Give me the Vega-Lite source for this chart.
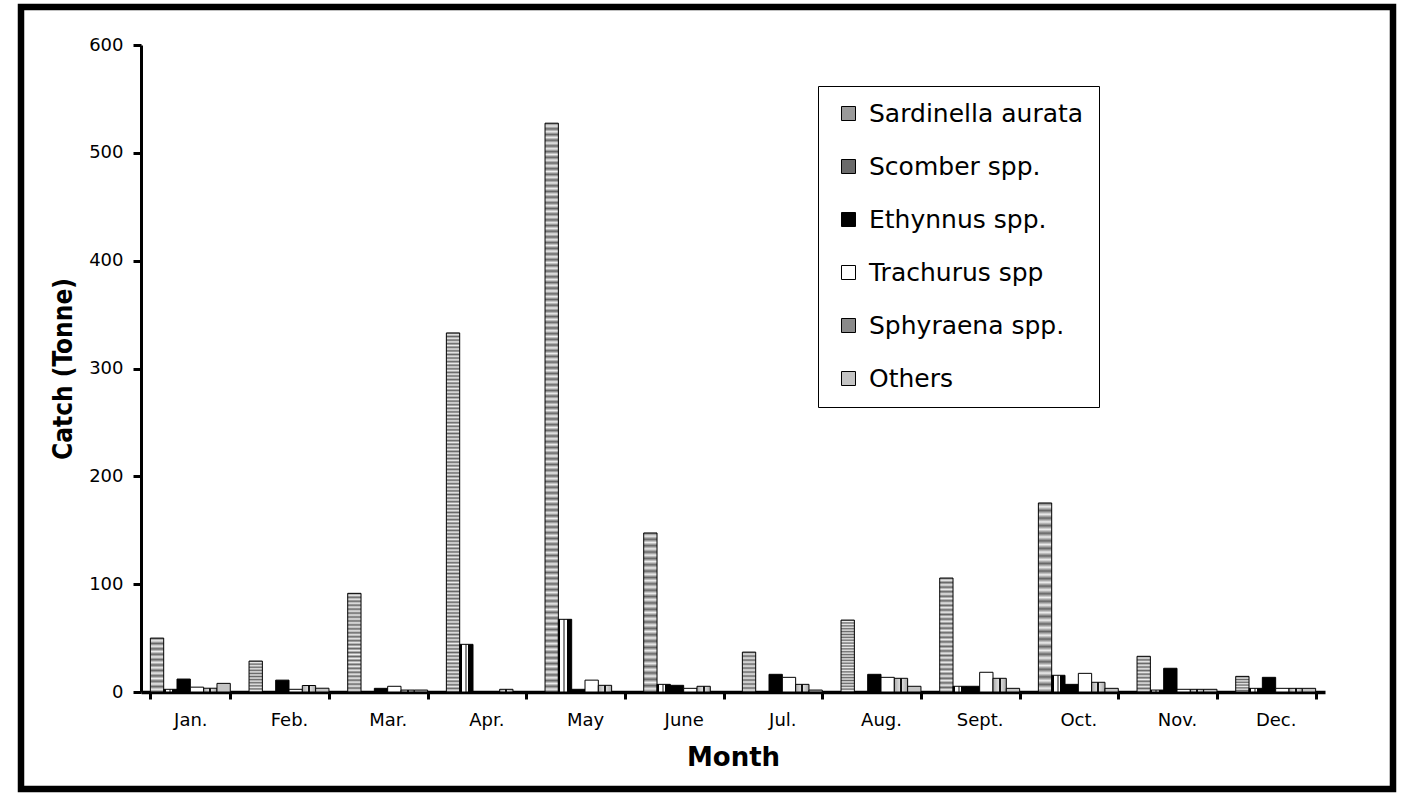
{
"$schema": "https://vega.github.io/schema/vega-lite/v6.json",
"width": 1372, "height": 782,
"autosize": "none",
"padding": {"left": 21, "top": 7, "right": 21, "bottom": 10},
"background": "white",
"config": {"view": {"stroke": "black", "strokeWidth": 6.5}, "font": "DejaVu Sans"},
"data": {"values": [
{"month":"Jan.","species":"Sardinella aurata","catch":50},
{"month":"Jan.","species":"Scomber spp.","catch":2.5},
{"month":"Jan.","species":"Ethynnus spp.","catch":12},
{"month":"Jan.","species":"Trachurus spp","catch":4.5},
{"month":"Jan.","species":"Sphyraena spp.","catch":3.5},
{"month":"Jan.","species":"Others","catch":8},
{"month":"Feb.","species":"Sardinella aurata","catch":28.7},
{"month":"Feb.","species":"Scomber spp.","catch":0},
{"month":"Feb.","species":"Ethynnus spp.","catch":11},
{"month":"Feb.","species":"Trachurus spp","catch":2.5},
{"month":"Feb.","species":"Sphyraena spp.","catch":6},
{"month":"Feb.","species":"Others","catch":3.5},
{"month":"Mar.","species":"Sardinella aurata","catch":91.5},
{"month":"Mar.","species":"Scomber spp.","catch":0},
{"month":"Mar.","species":"Ethynnus spp.","catch":3.4},
{"month":"Mar.","species":"Trachurus spp","catch":5.3},
{"month":"Mar.","species":"Sphyraena spp.","catch":1.8},
{"month":"Mar.","species":"Others","catch":1.8},
{"month":"Apr.","species":"Sardinella aurata","catch":333},
{"month":"Apr.","species":"Scomber spp.","catch":44.2},
{"month":"Apr.","species":"Ethynnus spp.","catch":0},
{"month":"Apr.","species":"Trachurus spp","catch":0},
{"month":"Apr.","species":"Sphyraena spp.","catch":2.5},
{"month":"Apr.","species":"Others","catch":0},
{"month":"May","species":"Sardinella aurata","catch":527.5},
{"month":"May","species":"Scomber spp.","catch":67.4},
{"month":"May","species":"Ethynnus spp.","catch":2.5},
{"month":"May","species":"Trachurus spp","catch":11},
{"month":"May","species":"Sphyraena spp.","catch":6.2},
{"month":"May","species":"Others","catch":0},
{"month":"June","species":"Sardinella aurata","catch":147.5},
{"month":"June","species":"Scomber spp.","catch":7.1},
{"month":"June","species":"Ethynnus spp.","catch":6.2},
{"month":"June","species":"Trachurus spp","catch":3.4},
{"month":"June","species":"Sphyraena spp.","catch":5.3},
{"month":"June","species":"Others","catch":0},
{"month":"Jul.","species":"Sardinella aurata","catch":37},
{"month":"Jul.","species":"Scomber spp.","catch":0},
{"month":"Jul.","species":"Ethynnus spp.","catch":16.4},
{"month":"Jul.","species":"Trachurus spp","catch":13.6},
{"month":"Jul.","species":"Sphyraena spp.","catch":7.1},
{"month":"Jul.","species":"Others","catch":1.8},
{"month":"Aug.","species":"Sardinella aurata","catch":66.7},
{"month":"Aug.","species":"Scomber spp.","catch":0},
{"month":"Aug.","species":"Ethynnus spp.","catch":16.4},
{"month":"Aug.","species":"Trachurus spp","catch":13.6},
{"month":"Aug.","species":"Sphyraena spp.","catch":12.7},
{"month":"Aug.","species":"Others","catch":5.3},
{"month":"Sept.","species":"Sardinella aurata","catch":105.7},
{"month":"Sept.","species":"Scomber spp.","catch":5.3},
{"month":"Sept.","species":"Ethynnus spp.","catch":5.3},
{"month":"Sept.","species":"Trachurus spp","catch":18.3},
{"month":"Sept.","species":"Sphyraena spp.","catch":12.7},
{"month":"Sept.","species":"Others","catch":3.4},
{"month":"Oct.","species":"Sardinella aurata","catch":175.3},
{"month":"Oct.","species":"Scomber spp.","catch":15.5},
{"month":"Oct.","species":"Ethynnus spp.","catch":7.1},
{"month":"Oct.","species":"Trachurus spp","catch":17.3},
{"month":"Oct.","species":"Sphyraena spp.","catch":9},
{"month":"Oct.","species":"Others","catch":3.4},
{"month":"Nov.","species":"Sardinella aurata","catch":33.1},
{"month":"Nov.","species":"Scomber spp.","catch":1.8},
{"month":"Nov.","species":"Ethynnus spp.","catch":22},
{"month":"Nov.","species":"Trachurus spp","catch":2.5},
{"month":"Nov.","species":"Sphyraena spp.","catch":2.5},
{"month":"Nov.","species":"Others","catch":2.5},
{"month":"Dec.","species":"Sardinella aurata","catch":14.5},
{"month":"Dec.","species":"Scomber spp.","catch":3.4},
{"month":"Dec.","species":"Ethynnus spp.","catch":13.6},
{"month":"Dec.","species":"Trachurus spp","catch":3.4},
{"month":"Dec.","species":"Sphyraena spp.","catch":3.4},
{"month":"Dec.","species":"Others","catch":3.4}
]},
"mark": {"type": "bar", "stroke": "black", "strokeWidth": 1},
"encoding": {
"x": {"field": "month", "type": "nominal",
 "sort": ["Jan.","Feb.","Mar.","Apr.","May","June","Jul.","Aug.","Sept.","Oct.","Nov.","Dec."],
 "scale": {"range": [120, 1304], "paddingInner": 0.19, "paddingOuter": 0.095},
 "axis": {"title": "Month", "tickBand": "extent", "labelAngle": 0, "offset": -97,
  "domainWidth": 3.5, "domainColor": "black", "tickWidth": 3, "tickColor": "black", "tickSize": 7,
  "labelFontSize": 18, "labelColor": "black", "labelPadding": 12,
  "titleFontSize": 26, "titleFontWeight": "bold", "titleColor": "black", "titlePadding": 15}},
"xOffset": {"field": "species", "type": "nominal",
 "sort": ["Sardinella aurata","Scomber spp.","Ethynnus spp.","Trachurus spp","Sphyraena spp.","Others"],
 "scale": {"paddingInner": 0, "paddingOuter": 0}},
"y": {"field": "catch", "type": "quantitative",
 "scale": {"domain": [0, 600], "range": [685, 38], "nice": false},
 "axis": {"title": "Catch (Tonne)", "values": [0,100,200,300,400,500,600], "grid": false, "offset": -120,
  "domainWidth": 3, "domainColor": "black", "tickWidth": 3, "tickColor": "black", "tickSize": 8,
  "labelFontSize": 18, "labelColor": "black", "labelPadding": 10,
  "titleFont": "DejaVu Sans Condensed", "titleFontSize": 26, "titleFontWeight": "bold", "titleColor": "black", "titlePadding": 12}},
"fill": {
 "condition": [
  {"test": "datum.species === 'Sardinella aurata' && datum.catch > 250", "value":
   {"gradient": "linear", "x1": 0, "y1": 0, "x2": 0, "y2": 1, "stops": [
{"offset":0,"color":"#666"},{"offset":0.005,"color":"#eee"},{"offset":0.01,"color":"#666"},{"offset":0.015,"color":"#eee"},{"offset":0.02,"color":"#666"},{"offset":0.025,"color":"#eee"},{"offset":0.03,"color":"#666"},{"offset":0.035,"color":"#eee"},{"offset":0.04,"color":"#666"},{"offset":0.045,"color":"#eee"},
{"offset":0.05,"color":"#666"},{"offset":0.055,"color":"#eee"},{"offset":0.06,"color":"#666"},{"offset":0.065,"color":"#eee"},{"offset":0.07,"color":"#666"},{"offset":0.075,"color":"#eee"},{"offset":0.08,"color":"#666"},{"offset":0.085,"color":"#eee"},{"offset":0.09,"color":"#666"},{"offset":0.095,"color":"#eee"},
{"offset":0.1,"color":"#666"},{"offset":0.105,"color":"#eee"},{"offset":0.11,"color":"#666"},{"offset":0.115,"color":"#eee"},{"offset":0.12,"color":"#666"},{"offset":0.125,"color":"#eee"},{"offset":0.13,"color":"#666"},{"offset":0.135,"color":"#eee"},{"offset":0.14,"color":"#666"},{"offset":0.145,"color":"#eee"},
{"offset":0.15,"color":"#666"},{"offset":0.155,"color":"#eee"},{"offset":0.16,"color":"#666"},{"offset":0.165,"color":"#eee"},{"offset":0.17,"color":"#666"},{"offset":0.175,"color":"#eee"},{"offset":0.18,"color":"#666"},{"offset":0.185,"color":"#eee"},{"offset":0.19,"color":"#666"},{"offset":0.195,"color":"#eee"},
{"offset":0.2,"color":"#666"},{"offset":0.205,"color":"#eee"},{"offset":0.21,"color":"#666"},{"offset":0.215,"color":"#eee"},{"offset":0.22,"color":"#666"},{"offset":0.225,"color":"#eee"},{"offset":0.23,"color":"#666"},{"offset":0.235,"color":"#eee"},{"offset":0.24,"color":"#666"},{"offset":0.245,"color":"#eee"},
{"offset":0.25,"color":"#666"},{"offset":0.255,"color":"#eee"},{"offset":0.26,"color":"#666"},{"offset":0.265,"color":"#eee"},{"offset":0.27,"color":"#666"},{"offset":0.275,"color":"#eee"},{"offset":0.28,"color":"#666"},{"offset":0.285,"color":"#eee"},{"offset":0.29,"color":"#666"},{"offset":0.295,"color":"#eee"},
{"offset":0.3,"color":"#666"},{"offset":0.305,"color":"#eee"},{"offset":0.31,"color":"#666"},{"offset":0.315,"color":"#eee"},{"offset":0.32,"color":"#666"},{"offset":0.325,"color":"#eee"},{"offset":0.33,"color":"#666"},{"offset":0.335,"color":"#eee"},{"offset":0.34,"color":"#666"},{"offset":0.345,"color":"#eee"},
{"offset":0.35,"color":"#666"},{"offset":0.355,"color":"#eee"},{"offset":0.36,"color":"#666"},{"offset":0.365,"color":"#eee"},{"offset":0.37,"color":"#666"},{"offset":0.375,"color":"#eee"},{"offset":0.38,"color":"#666"},{"offset":0.385,"color":"#eee"},{"offset":0.39,"color":"#666"},{"offset":0.395,"color":"#eee"},
{"offset":0.4,"color":"#666"},{"offset":0.405,"color":"#eee"},{"offset":0.41,"color":"#666"},{"offset":0.415,"color":"#eee"},{"offset":0.42,"color":"#666"},{"offset":0.425,"color":"#eee"},{"offset":0.43,"color":"#666"},{"offset":0.435,"color":"#eee"},{"offset":0.44,"color":"#666"},{"offset":0.445,"color":"#eee"},
{"offset":0.45,"color":"#666"},{"offset":0.455,"color":"#eee"},{"offset":0.46,"color":"#666"},{"offset":0.465,"color":"#eee"},{"offset":0.47,"color":"#666"},{"offset":0.475,"color":"#eee"},{"offset":0.48,"color":"#666"},{"offset":0.485,"color":"#eee"},{"offset":0.49,"color":"#666"},{"offset":0.495,"color":"#eee"},
{"offset":0.5,"color":"#666"},{"offset":0.505,"color":"#eee"},{"offset":0.51,"color":"#666"},{"offset":0.515,"color":"#eee"},{"offset":0.52,"color":"#666"},{"offset":0.525,"color":"#eee"},{"offset":0.53,"color":"#666"},{"offset":0.535,"color":"#eee"},{"offset":0.54,"color":"#666"},{"offset":0.545,"color":"#eee"},
{"offset":0.55,"color":"#666"},{"offset":0.555,"color":"#eee"},{"offset":0.56,"color":"#666"},{"offset":0.565,"color":"#eee"},{"offset":0.57,"color":"#666"},{"offset":0.575,"color":"#eee"},{"offset":0.58,"color":"#666"},{"offset":0.585,"color":"#eee"},{"offset":0.59,"color":"#666"},{"offset":0.595,"color":"#eee"},
{"offset":0.6,"color":"#666"},{"offset":0.605,"color":"#eee"},{"offset":0.61,"color":"#666"},{"offset":0.615,"color":"#eee"},{"offset":0.62,"color":"#666"},{"offset":0.625,"color":"#eee"},{"offset":0.63,"color":"#666"},{"offset":0.635,"color":"#eee"},{"offset":0.64,"color":"#666"},{"offset":0.645,"color":"#eee"},
{"offset":0.65,"color":"#666"},{"offset":0.655,"color":"#eee"},{"offset":0.66,"color":"#666"},{"offset":0.665,"color":"#eee"},{"offset":0.67,"color":"#666"},{"offset":0.675,"color":"#eee"},{"offset":0.68,"color":"#666"},{"offset":0.685,"color":"#eee"},{"offset":0.69,"color":"#666"},{"offset":0.695,"color":"#eee"},
{"offset":0.7,"color":"#666"},{"offset":0.705,"color":"#eee"},{"offset":0.71,"color":"#666"},{"offset":0.715,"color":"#eee"},{"offset":0.72,"color":"#666"},{"offset":0.725,"color":"#eee"},{"offset":0.73,"color":"#666"},{"offset":0.735,"color":"#eee"},{"offset":0.74,"color":"#666"},{"offset":0.745,"color":"#eee"},
{"offset":0.75,"color":"#666"},{"offset":0.755,"color":"#eee"},{"offset":0.76,"color":"#666"},{"offset":0.765,"color":"#eee"},{"offset":0.77,"color":"#666"},{"offset":0.775,"color":"#eee"},{"offset":0.78,"color":"#666"},{"offset":0.785,"color":"#eee"},{"offset":0.79,"color":"#666"},{"offset":0.795,"color":"#eee"},
{"offset":0.8,"color":"#666"},{"offset":0.805,"color":"#eee"},{"offset":0.81,"color":"#666"},{"offset":0.815,"color":"#eee"},{"offset":0.82,"color":"#666"},{"offset":0.825,"color":"#eee"},{"offset":0.83,"color":"#666"},{"offset":0.835,"color":"#eee"},{"offset":0.84,"color":"#666"},{"offset":0.845,"color":"#eee"},
{"offset":0.85,"color":"#666"},{"offset":0.855,"color":"#eee"},{"offset":0.86,"color":"#666"},{"offset":0.865,"color":"#eee"},{"offset":0.87,"color":"#666"},{"offset":0.875,"color":"#eee"},{"offset":0.88,"color":"#666"},{"offset":0.885,"color":"#eee"},{"offset":0.89,"color":"#666"},{"offset":0.895,"color":"#eee"},
{"offset":0.9,"color":"#666"},{"offset":0.905,"color":"#eee"},{"offset":0.91,"color":"#666"},{"offset":0.915,"color":"#eee"},{"offset":0.92,"color":"#666"},{"offset":0.925,"color":"#eee"},{"offset":0.93,"color":"#666"},{"offset":0.935,"color":"#eee"},{"offset":0.94,"color":"#666"},{"offset":0.945,"color":"#eee"},
{"offset":0.95,"color":"#666"},{"offset":0.955,"color":"#eee"},{"offset":0.96,"color":"#666"},{"offset":0.965,"color":"#eee"},{"offset":0.97,"color":"#666"},{"offset":0.975,"color":"#eee"},{"offset":0.98,"color":"#666"},{"offset":0.985,"color":"#eee"},{"offset":0.99,"color":"#666"},{"offset":0.995,"color":"#eee"},
{"offset":1,"color":"#666"}
   ]}},
  {"test": "datum.species === 'Sardinella aurata' && datum.catch > 60", "value":
   {"gradient": "linear", "x1": 0, "y1": 0, "x2": 0, "y2": 1, "stops": [
{"offset":0,"color":"#666"},{"offset":0.02,"color":"#eee"},{"offset":0.04,"color":"#666"},{"offset":0.06,"color":"#eee"},{"offset":0.08,"color":"#666"},{"offset":0.1,"color":"#eee"},{"offset":0.12,"color":"#666"},{"offset":0.14,"color":"#eee"},{"offset":0.16,"color":"#666"},{"offset":0.18,"color":"#eee"},
{"offset":0.2,"color":"#666"},{"offset":0.22,"color":"#eee"},{"offset":0.24,"color":"#666"},{"offset":0.26,"color":"#eee"},{"offset":0.28,"color":"#666"},{"offset":0.3,"color":"#eee"},{"offset":0.32,"color":"#666"},{"offset":0.34,"color":"#eee"},{"offset":0.36,"color":"#666"},{"offset":0.38,"color":"#eee"},
{"offset":0.4,"color":"#666"},{"offset":0.42,"color":"#eee"},{"offset":0.44,"color":"#666"},{"offset":0.46,"color":"#eee"},{"offset":0.48,"color":"#666"},{"offset":0.5,"color":"#eee"},{"offset":0.52,"color":"#666"},{"offset":0.54,"color":"#eee"},{"offset":0.56,"color":"#666"},{"offset":0.58,"color":"#eee"},
{"offset":0.6,"color":"#666"},{"offset":0.62,"color":"#eee"},{"offset":0.64,"color":"#666"},{"offset":0.66,"color":"#eee"},{"offset":0.68,"color":"#666"},{"offset":0.7,"color":"#eee"},{"offset":0.72,"color":"#666"},{"offset":0.74,"color":"#eee"},{"offset":0.76,"color":"#666"},{"offset":0.78,"color":"#eee"},
{"offset":0.8,"color":"#666"},{"offset":0.82,"color":"#eee"},{"offset":0.84,"color":"#666"},{"offset":0.86,"color":"#eee"},{"offset":0.88,"color":"#666"},{"offset":0.9,"color":"#eee"},{"offset":0.92,"color":"#666"},{"offset":0.94,"color":"#eee"},{"offset":0.96,"color":"#666"},{"offset":0.98,"color":"#eee"},
{"offset":1,"color":"#666"}
   ]}},
  {"test": "datum.species === 'Sardinella aurata'", "value":
   {"gradient": "linear", "x1": 0, "y1": 0, "x2": 0, "y2": 1, "stops": [
{"offset":0,"color":"#666"},{"offset":0.05,"color":"#eee"},{"offset":0.1,"color":"#666"},{"offset":0.15,"color":"#eee"},{"offset":0.2,"color":"#666"},{"offset":0.25,"color":"#eee"},{"offset":0.3,"color":"#666"},{"offset":0.35,"color":"#eee"},{"offset":0.4,"color":"#666"},{"offset":0.45,"color":"#eee"},
{"offset":0.5,"color":"#666"},{"offset":0.55,"color":"#eee"},{"offset":0.6,"color":"#666"},{"offset":0.65,"color":"#eee"},{"offset":0.7,"color":"#666"},{"offset":0.75,"color":"#eee"},{"offset":0.8,"color":"#666"},{"offset":0.85,"color":"#eee"},{"offset":0.9,"color":"#666"},{"offset":0.95,"color":"#eee"},
{"offset":1,"color":"#666"}
   ]}},
  {"test": "datum.species === 'Scomber spp.'", "value":
   {"gradient": "linear", "x1": 0, "y1": 0, "x2": 1, "y2": 0, "stops": [
    {"offset":0,"color":"#000"},{"offset":0.15,"color":"#000"},{"offset":0.15,"color":"#fff"},{"offset":0.38,"color":"#fff"},{"offset":0.38,"color":"#888"},{"offset":0.52,"color":"#888"},{"offset":0.52,"color":"#fff"},{"offset":0.62,"color":"#fff"},{"offset":0.62,"color":"#000"},{"offset":1,"color":"#000"}]}},
  {"test": "datum.species === 'Sphyraena spp.'", "value":
   {"gradient": "linear", "x1": 0, "y1": 0, "x2": 1, "y2": 0, "stops": [
    {"offset":0,"color":"#aaa"},{"offset":0.42,"color":"#ddd"},{"offset":0.42,"color":"#111"},{"offset":0.58,"color":"#111"},{"offset":0.58,"color":"#ddd"},{"offset":1,"color":"#aaa"}]}}
 ],
 "field": "species", "type": "nominal",
 "scale": {"domain": ["Sardinella aurata","Scomber spp.","Ethynnus spp.","Trachurus spp","Sphyraena spp.","Others"],
  "range": ["#9a9a9a", "#6a6a6a", "#000000", "#ffffff", "#8a8a8a", "#c4c4c4"]},
 "legend": {"title": null, "orient": "none", "legendX": 797, "legendY": 79,
  "strokeColor": "black", "fillColor": "white", "padding": 15,
  "symbolType": "square", "symbolSize": 196, "symbolStrokeColor": "black", "symbolStrokeWidth": 1, "symbolOffset": 3,
  "labelFontSize": 25, "labelColor": "black", "labelOffset": 8, "labelLimit": 500, "rowPadding": 27}}
}
}
